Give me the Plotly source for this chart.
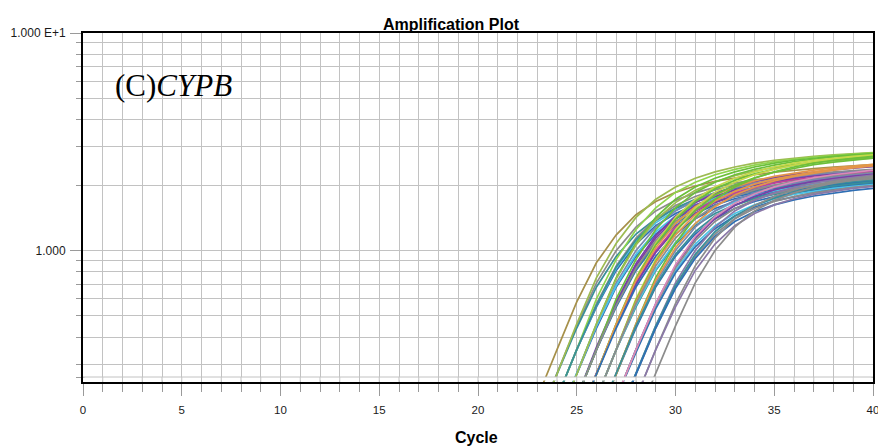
import math
import plotly.graph_objects as go

# ---- axis values -------------------------------------------------------
cycle_max = 40
x_tick_values = [0, 5, 10, 15, 20, 25, 30, 35, 40]
y_major_values = [1, 10]
y_major_text = ["1.000", "1.000 E+1"]
y_minor_values = [0.3, 0.4, 0.5, 0.6, 0.7, 0.8, 0.9, 2, 3, 4, 5, 6, 7, 8, 9]
y_floor = 0.262        # lowest ΔRn drawn
y_frame_bottom = 0.2485  # bottom of the plot frame

# ---- ΔRn per well, one value per cycle starting at first_cycle --------
well_01 = [0.08, 0.13, 0.21, 0.35, 0.58, 0.88, 1.18, 1.46, 1.68, 1.85, 1.98, 2.08, 2.16, 2.23, 2.29, 2.34, 2.38, 2.42, 2.45, 2.48]
well_02 = [0.10, 0.165, 0.27, 0.45, 0.71, 1.00, 1.28, 1.52, 1.70, 1.84, 1.95, 2.04, 2.11, 2.17, 2.22, 2.26, 2.30, 2.33, 2.36]
well_03 = [0.10, 0.165, 0.27, 0.44, 0.68, 0.94, 1.19, 1.40, 1.56, 1.68, 1.77, 1.84, 1.90, 1.95, 1.99, 2.02, 2.05, 2.07, 2.09]
well_04 = [0.10, 0.165, 0.27, 0.46, 0.75, 1.08, 1.42, 1.72, 1.96, 2.15, 2.30, 2.42, 2.52, 2.60, 2.66, 2.71, 2.75, 2.79, 2.82]
well_05 = [0.08, 0.13, 0.21, 0.35, 0.55, 0.81, 1.07, 1.30, 1.48, 1.62, 1.73, 1.81, 1.87, 1.93, 1.97, 2.01, 2.04, 2.06, 2.08]
well_06 = [0.08, 0.13, 0.21, 0.35, 0.56, 0.83, 1.10, 1.34, 1.53, 1.68, 1.79, 1.88, 1.95, 2.00, 2.05, 2.09, 2.12, 2.15, 2.17]
well_07 = [0.08, 0.13, 0.21, 0.35, 0.57, 0.85, 1.14, 1.40, 1.61, 1.77, 1.90, 2.00, 2.08, 2.14, 2.20, 2.24, 2.28, 2.32, 2.35]
well_08 = [0.08, 0.13, 0.21, 0.35, 0.60, 0.91, 1.25, 1.57, 1.85, 2.06, 2.23, 2.36, 2.47, 2.56, 2.63, 2.69, 2.73, 2.77, 2.81]
well_09 = [0.08, 0.13, 0.21, 0.35, 0.56, 0.84, 1.12, 1.37, 1.57, 1.72, 1.84, 1.93, 2.00, 2.06, 2.11, 2.15, 2.18, 2.21, 2.24]
well_10 = [0.10, 0.165, 0.27, 0.44, 0.68, 0.94, 1.19, 1.40, 1.56, 1.68, 1.77, 1.84, 1.90, 1.95, 1.99, 2.02, 2.05, 2.07]
well_11 = [0.10, 0.165, 0.27, 0.46, 0.75, 1.08, 1.42, 1.72, 1.96, 2.15, 2.30, 2.42, 2.52, 2.60, 2.66, 2.71, 2.75, 2.79]
well_12 = [0.10, 0.165, 0.27, 0.45, 0.71, 1.00, 1.28, 1.52, 1.70, 1.84, 1.95, 2.04, 2.11, 2.17, 2.22, 2.26, 2.30, 2.33]
well_13 = [0.10, 0.165, 0.27, 0.45, 0.69, 0.96, 1.22, 1.44, 1.61, 1.74, 1.84, 1.92, 1.98, 2.03, 2.07, 2.11, 2.14, 2.16]
well_14 = [0.10, 0.165, 0.27, 0.46, 0.74, 1.06, 1.38, 1.66, 1.89, 2.07, 2.21, 2.32, 2.41, 2.48, 2.54, 2.59, 2.63, 2.66]
well_15 = [0.08, 0.13, 0.21, 0.35, 0.57, 0.85, 1.14, 1.40, 1.61, 1.77, 1.90, 2.00, 2.08, 2.14, 2.20, 2.24, 2.28, 2.32]
well_16 = [0.08, 0.13, 0.21, 0.36, 0.58, 0.87, 1.17, 1.44, 1.66, 1.83, 1.97, 2.08, 2.17, 2.24, 2.30, 2.35, 2.39, 2.43]
well_17 = [0.08, 0.13, 0.21, 0.35, 0.55, 0.81, 1.07, 1.30, 1.48, 1.62, 1.73, 1.81, 1.87, 1.93, 1.97, 2.01, 2.04, 2.06]
well_18 = [0.08, 0.13, 0.21, 0.35, 0.56, 0.82, 1.09, 1.33, 1.52, 1.67, 1.79, 1.88, 1.95, 2.01, 2.06, 2.10, 2.13, 2.16]
well_19 = [0.08, 0.13, 0.21, 0.35, 0.60, 0.91, 1.25, 1.57, 1.85, 2.06, 2.23, 2.36, 2.47, 2.56, 2.63, 2.69, 2.73, 2.77]
well_20 = [0.08, 0.13, 0.21, 0.35, 0.56, 0.83, 1.11, 1.36, 1.56, 1.71, 1.83, 1.92, 1.99, 2.05, 2.10, 2.14, 2.17, 2.20]
well_21 = [0.10, 0.165, 0.27, 0.45, 0.71, 1.00, 1.28, 1.52, 1.70, 1.84, 1.95, 2.04, 2.11, 2.17, 2.22, 2.26, 2.30]
well_22 = [0.10, 0.165, 0.27, 0.45, 0.70, 0.98, 1.25, 1.48, 1.66, 1.79, 1.90, 1.98, 2.05, 2.11, 2.16, 2.20, 2.23]
well_23 = [0.10, 0.165, 0.27, 0.46, 0.75, 1.08, 1.42, 1.72, 1.96, 2.15, 2.30, 2.42, 2.52, 2.60, 2.66, 2.71, 2.75]
well_24 = [0.10, 0.165, 0.27, 0.46, 0.74, 1.06, 1.39, 1.68, 1.92, 2.10, 2.25, 2.37, 2.47, 2.55, 2.61, 2.66, 2.70]
well_25 = [0.10, 0.165, 0.27, 0.46, 0.73, 1.03, 1.33, 1.59, 1.80, 1.96, 2.09, 2.19, 2.27, 2.34, 2.40, 2.45, 2.49]
well_26 = [0.10, 0.165, 0.27, 0.44, 0.68, 0.94, 1.19, 1.40, 1.56, 1.68, 1.77, 1.84, 1.90, 1.95, 1.99, 2.02, 2.05]
well_27 = [0.08, 0.13, 0.21, 0.35, 0.60, 0.91, 1.25, 1.57, 1.85, 2.06, 2.23, 2.36, 2.47, 2.56, 2.63, 2.69, 2.73]
well_28 = [0.08, 0.13, 0.21, 0.35, 0.59, 0.89, 1.22, 1.53, 1.80, 2.00, 2.16, 2.29, 2.39, 2.48, 2.55, 2.61, 2.66]
well_29 = [0.08, 0.13, 0.21, 0.35, 0.55, 0.81, 1.07, 1.30, 1.48, 1.62, 1.73, 1.81, 1.87, 1.93, 1.97, 2.01, 2.04]
well_30 = [0.08, 0.13, 0.21, 0.35, 0.58, 0.88, 1.18, 1.46, 1.69, 1.87, 2.02, 2.13, 2.22, 2.30, 2.36, 2.42, 2.47]
well_31 = [0.08, 0.13, 0.21, 0.35, 0.56, 0.82, 1.09, 1.33, 1.52, 1.67, 1.79, 1.88, 1.95, 2.01, 2.06, 2.10, 2.13]
well_32 = [0.08, 0.13, 0.21, 0.35, 0.57, 0.85, 1.14, 1.40, 1.61, 1.77, 1.90, 2.00, 2.08, 2.14, 2.20, 2.24, 2.28]
well_33 = [0.10, 0.165, 0.27, 0.44, 0.68, 0.94, 1.19, 1.40, 1.56, 1.68, 1.77, 1.84, 1.90, 1.95, 1.99, 2.02]
well_34 = [0.10, 0.165, 0.27, 0.45, 0.71, 1.00, 1.28, 1.52, 1.70, 1.84, 1.95, 2.04, 2.11, 2.17, 2.22, 2.26]
well_35 = [0.10, 0.165, 0.27, 0.46, 0.75, 1.08, 1.42, 1.72, 1.96, 2.15, 2.30, 2.42, 2.52, 2.60, 2.66, 2.71]
well_36 = [0.10, 0.165, 0.27, 0.46, 0.73, 1.03, 1.33, 1.59, 1.80, 1.96, 2.09, 2.19, 2.27, 2.34, 2.40, 2.45]
well_37 = [0.10, 0.165, 0.27, 0.45, 0.69, 0.96, 1.22, 1.44, 1.61, 1.74, 1.84, 1.92, 1.98, 2.03, 2.07, 2.11]
well_38 = [0.08, 0.13, 0.21, 0.35, 0.55, 0.81, 1.07, 1.30, 1.48, 1.62, 1.73, 1.81, 1.87, 1.93, 1.97, 2.01]
well_39 = [0.08, 0.13, 0.21, 0.35, 0.57, 0.85, 1.14, 1.40, 1.61, 1.77, 1.90, 2.00, 2.08, 2.14, 2.20, 2.24]
well_40 = [0.08, 0.13, 0.21, 0.34, 0.54, 0.79, 1.04, 1.26, 1.44, 1.58, 1.69, 1.77, 1.84, 1.90, 1.94, 1.98]
well_41 = [0.08, 0.13, 0.21, 0.35, 0.56, 0.83, 1.11, 1.36, 1.56, 1.71, 1.83, 1.92, 1.99, 2.05, 2.10, 2.14]
well_42 = [0.08, 0.13, 0.21, 0.35, 0.57, 0.86, 1.16, 1.43, 1.65, 1.82, 1.96, 2.07, 2.16, 2.23, 2.29, 2.34]
well_43 = [0.10, 0.165, 0.27, 0.45, 0.71, 1.00, 1.28, 1.52, 1.70, 1.84, 1.95, 2.04, 2.11, 2.17, 2.22]
well_44 = [0.10, 0.165, 0.27, 0.44, 0.68, 0.94, 1.19, 1.40, 1.56, 1.68, 1.77, 1.84, 1.90, 1.95, 1.99]
well_45 = [0.10, 0.165, 0.27, 0.45, 0.69, 0.96, 1.22, 1.44, 1.61, 1.74, 1.84, 1.92, 1.98, 2.03, 2.07]
well_46 = [0.10, 0.165, 0.27, 0.44, 0.67, 0.92, 1.16, 1.36, 1.51, 1.62, 1.71, 1.78, 1.84, 1.89, 1.93]
well_47 = [0.08, 0.13, 0.21, 0.35, 0.57, 0.85, 1.14, 1.40, 1.61, 1.77, 1.90, 2.00, 2.08, 2.14, 2.20]
well_48 = [0.08, 0.13, 0.21, 0.35, 0.55, 0.81, 1.07, 1.30, 1.48, 1.62, 1.73, 1.81, 1.87, 1.93, 1.97]
well_49 = [0.10, 0.165, 0.27, 0.45, 0.71, 1.00, 1.28, 1.52, 1.70, 1.84, 1.95, 2.04, 2.11, 2.17]

wells = [
    well_01, well_02, well_03, well_04, well_05, well_06, well_07, well_08, well_09, well_10,
    well_11, well_12, well_13, well_14, well_15, well_16, well_17, well_18, well_19, well_20,
    well_21, well_22, well_23, well_24, well_25, well_26, well_27, well_28, well_29, well_30,
    well_31, well_32, well_33, well_34, well_35, well_36, well_37, well_38, well_39, well_40,
    well_41, well_42, well_43, well_44, well_45, well_46, well_47, well_48, well_49,
]

first_cycle = [21] + [22] * 8 + [23] * 11 + [24] * 12 + [25] * 10 + [26] * 6 + [27]

# ---- trace colours ------------------------------------------------------
BROWN, GRAY, TEAL, OLIVE = "#a6904a", "#8c8c8c", "#3a8f99", "#9dbb52"
BLUE, CYAN, LGREEN, GREEN = "#2f6fb4", "#4cc3e6", "#8fd44c", "#6cbf3a"
SLATE, PURPLE, MAGENTA, YGREEN = "#7a86b0", "#7b3fa6", "#c2409a", "#c5d84a"
ORANGE, PINK, PGRAY = "#e3964a", "#d98bb8", "#8a78a8"

well_colors = [
    BROWN,
    GRAY, TEAL, OLIVE, BLUE, CYAN, GRAY, LGREEN, TEAL,
    BLUE, GREEN, SLATE, CYAN, OLIVE, PURPLE, PURPLE, BLUE, TEAL, GREEN, GRAY,
    MAGENTA, PURPLE, YGREEN, GREEN, ORANGE, BLUE, YGREEN, GREEN, TEAL, ORANGE, CYAN, GRAY,
    BLUE, SLATE, GREEN, ORANGE, TEAL, CYAN, PURPLE, BLUE, GRAY, PINK,
    PGRAY, GRAY, TEAL, BLUE, GRAY, PGRAY,
    GRAY,
]

# ---- figure -------------------------------------------------------------
fig = go.Figure()

for values, start, color in zip(wells, first_cycle, well_colors):
    fig.add_trace(go.Scatter(
        x=list(range(start, start + len(values))),
        y=values,
        mode="lines",
        line=dict(color=color, width=1.7),
        showlegend=False,
        hoverinfo="skip",
    ))

grid_col = "#c2c2c2"
tick_col = "#9a9a9a"
log_bottom = math.log10(y_frame_bottom)

# Traces stop at the ΔRn floor: mask the thin strip between the floor and
# the frame bottom, then restore the grid inside that strip.
shapes = [
    dict(type="rect", xref="x", yref="y", layer="above",
         x0=0.08, x1=cycle_max - 0.08, y0=y_frame_bottom * 1.017, y1=y_floor,
         line=dict(width=0), fillcolor="white"),
    dict(type="line", xref="x", yref="y", layer="above",
         x0=0, x1=cycle_max, y0=y_floor, y1=y_floor,
         line=dict(color=grid_col, width=1)),
]
for c in range(1, cycle_max):
    shapes.append(dict(type="line", xref="x", yref="y", layer="above",
                       x0=c, x1=c, y0=y_frame_bottom, y1=y_floor,
                       line=dict(color=grid_col, width=1)))

fig.update_layout(
    width=878,
    height=448,
    margin=dict(l=83, r=5, t=33, b=66, autoexpand=False),
    paper_bgcolor="white",
    plot_bgcolor="white",
    showlegend=False,
    shapes=shapes,
    xaxis=dict(
        range=[0, cycle_max],
        automargin=False,
        tickmode="array",
        tickvals=x_tick_values,
        ticks="outside",
        ticklen=12,
        tickwidth=1,
        tickcolor=tick_col,
        ticklabelstandoff=4,
        ticklabeloverflow="allow",
        tickfont=dict(family="Liberation Sans, Arial", size=11.5, color="#1a1a1a"),
        showgrid=True,
        gridcolor=grid_col,
        gridwidth=1,
        zeroline=False,
        showline=True,
        linecolor="#000000",
        linewidth=2,
        mirror=True,
        minor=dict(
            tick0=0,
            dtick=1,
            ticks="outside",
            ticklen=8,
            tickcolor=tick_col,
            showgrid=True,
            gridcolor=grid_col,
            gridwidth=1,
        ),
    ),
    yaxis=dict(
        type="log",
        range=[log_bottom, 1],
        automargin=False,
        tickmode="array",
        tickvals=y_major_values,
        ticktext=y_major_text,
        ticks="outside",
        ticklen=11,
        tickcolor=tick_col,
        ticklabelstandoff=2,
        ticklabeloverflow="allow",
        tickfont=dict(family="Liberation Sans, Arial", size=12, color="#1a1a1a"),
        showgrid=True,
        gridcolor=grid_col,
        gridwidth=1,
        zeroline=False,
        showline=True,
        linecolor="#000000",
        linewidth=2,
        mirror=True,
        minor=dict(
            tickmode="array",
            tickvals=[y_floor] + y_minor_values,
            ticks="outside",
            ticklen=5,
            tickcolor=tick_col,
            showgrid=True,
            gridcolor=grid_col,
            gridwidth=1,
        ),
    ),
    annotations=[
        dict(
            text="<b>Amplification Plot</b>",
            xref="paper", yref="paper",
            x=0.467, y=1, xanchor="center", yanchor="bottom", yshift=-2,
            showarrow=False,
            font=dict(family="Liberation Sans, Arial", size=16, color="#000000"),
        ),
        dict(
            text="<b>Cycle</b>",
            xref="paper", yref="paper",
            x=0.4975, y=-0.16, xanchor="center", yanchor="middle",
            showarrow=False,
            font=dict(family="Liberation Sans, Arial", size=16, color="#000000"),
        ),
        dict(
            text="(C)<i>CYPB</i>",
            xref="paper", yref="paper",
            x=0.038, y=0.85, xanchor="left", yanchor="middle",
            showarrow=False,
            font=dict(family="Liberation Serif, Times New Roman, serif", size=31, color="#000000"),
        ),
    ],
)

fig.write_html("out.html")
